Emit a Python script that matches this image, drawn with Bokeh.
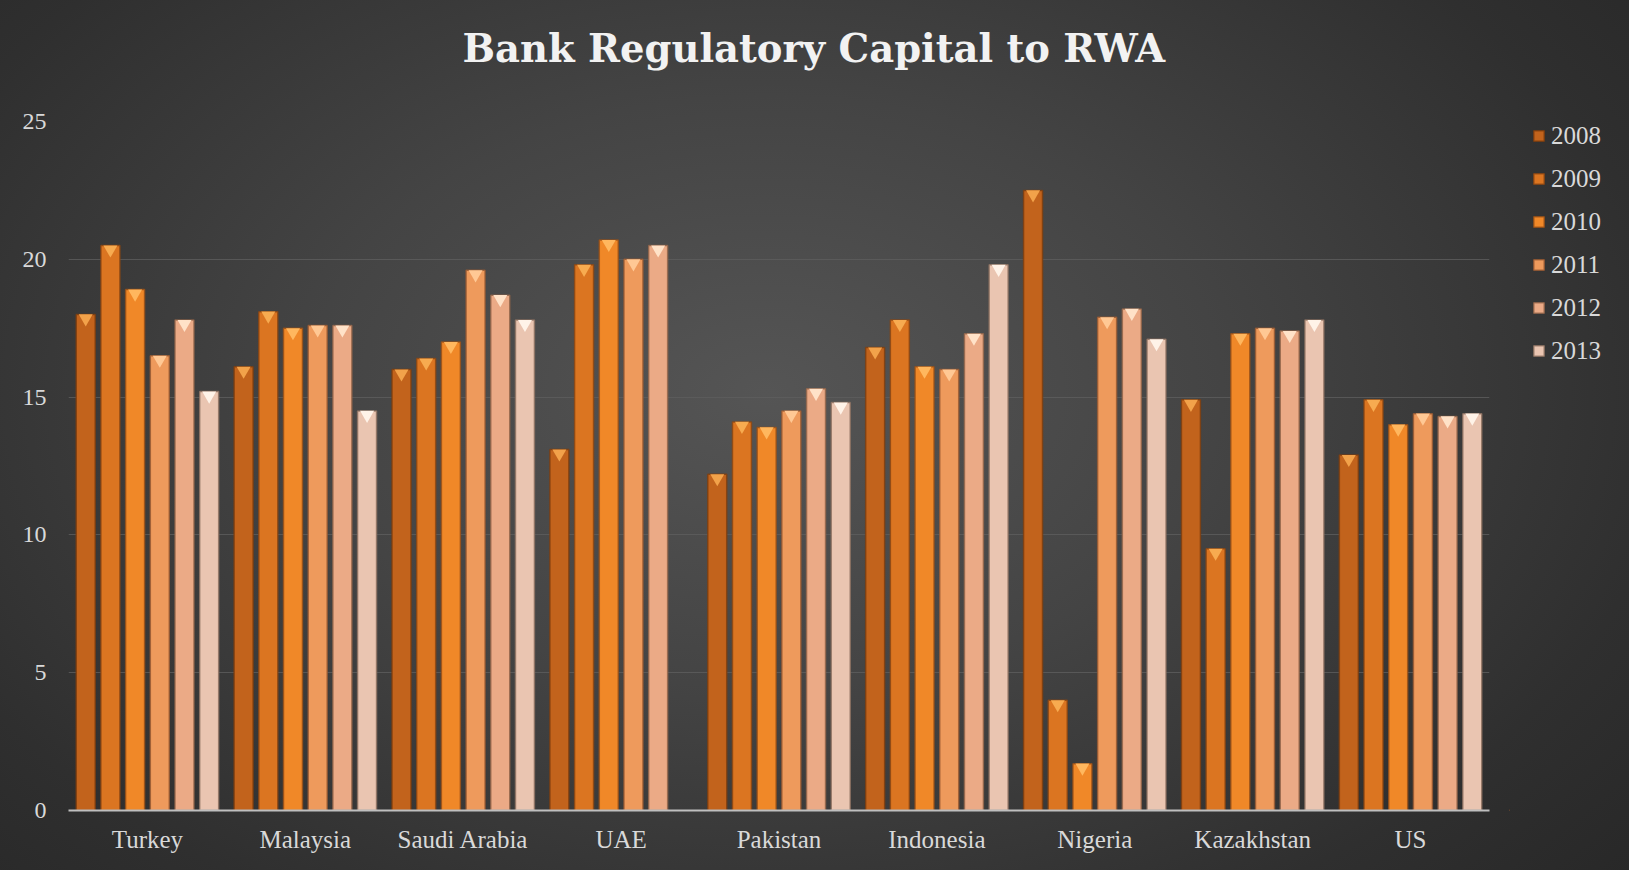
from bokeh.plotting import figure
from bokeh.layouts import row
from bokeh.models import (ColumnDataSource, FactorRange, Range1d, Legend, LegendItem,
                          FixedTicker, Title)
from bokeh.transform import dodge
from bokeh.embed import file_html
from bokeh.resources import INLINE

nan = float("nan")

countries = ["Turkey", "Malaysia", "Saudi Arabia", "UAE", "Pakistan",
             "Indonesia", "Nigeria", "Kazakhstan", "US"]
years = ["2008", "2009", "2010", "2011", "2012", "2013"]

v2008 = [18.0, 16.1, 16.0, 13.1, 12.2, 16.8, 22.5, 14.9, 12.9]
v2009 = [20.5, 18.1, 16.4, 19.8, 14.1, 17.8, 4.0, 9.5, 14.9]
v2010 = [18.9, 17.5, 17.0, 20.7, 13.9, 16.1, 1.7, 17.3, 14.0]
v2011 = [16.5, 17.6, 19.6, 20.0, 14.5, 16.0, 17.9, 17.5, 14.4]
v2012 = [17.8, 17.6, 18.7, 20.5, 15.3, 17.3, 18.2, 17.4, 14.3]
v2013 = [15.2, 14.5, 17.8, nan, 14.8, 19.8, 17.1, 17.8, 14.4]
series = [v2008, v2009, v2010, v2011, v2012, v2013]

y_ticks = [0, 5, 10, 15, 20, 25]

bar_colors = ["#C2631C", "#DB7521", "#F08828", "#EE9A5C", "#EBAA86", "#EAC5B1"]
edge_colors = ["#7E3D0E", "#8C4612", "#9A5016", "#9A5A32", "#94654A", "#8E7262"]
cap_colors = ["#F2A24A", "#F7AB50", "#FFB75E", "#FFC894", "#FFE2C8", "#FFF3E8"]

FONT = "Liberation Serif"
TXT = "#D9D9D9"

p = figure(width=1509, height=870, output_backend="svg", toolbar_location=None,
           x_range=FactorRange(factors=countries, range_padding=0),
           y_range=Range1d(0, 25),
           min_border_left=68, min_border_right=20, min_border_top=121,
           min_border_bottom=60,
           title="Bank Regulatory Capital to RWA")
p.border_fill_color = None
p.background_fill_color = None
p.outline_line_color = None

p.title.align = "left"
p.title.offset = 394
p.title.vertical_align = "bottom"
p.title.standoff = 10
p.title.text_font = "DejaVu Serif"
p.title.text_font_style = "bold"
p.title.text_font_size = "38.5px"
p.title.text_color = "#F2F2F2"

# empty spacer between the frame and the title
spacer = Title(text=" ", text_font_size="1px", standoff=43)
p.add_layout(spacer, "above")

step = 0.1564
bw = 0.12
for i, (yr, vals) in enumerate(zip(years, series)):
    off = (i - 2.5) * step
    src = ColumnDataSource(dict(country=countries, value=vals))
    p.vbar(x=dodge("country", off, range=p.x_range), top="value", width=bw,
           source=src, fill_color=bar_colors[i], line_color=edge_colors[i],
           line_width=1.5, line_alpha=0.8)
    p.scatter(x=dodge("country", off, range=p.x_range), y=dodge("value", -0.145),
              source=src, marker="inverted_triangle", size=14,
              fill_color=cap_colors[i], line_color=None)

# axes
p.yaxis.ticker = FixedTicker(ticks=y_ticks)
p.yaxis.axis_line_color = None
p.yaxis.major_tick_line_color = None
p.yaxis.minor_tick_line_color = None
p.yaxis.major_label_text_font = FONT
p.yaxis.major_label_text_font_size = "24px"
p.yaxis.major_label_text_color = TXT
p.yaxis.major_label_standoff = 16

p.xaxis.axis_line_color = "#BFBFBF"
p.xaxis.axis_line_width = 2
p.xaxis.major_tick_line_color = None
p.xaxis.minor_tick_line_color = None
p.xaxis.major_label_text_font = FONT
p.xaxis.major_label_text_font_size = "25px"
p.xaxis.major_label_text_color = TXT
p.xaxis.major_label_standoff = 9

p.xgrid.grid_line_color = None
p.ygrid.grid_line_color = "#5E5E5E"
p.ygrid.grid_line_alpha = 0.8
p.ygrid.grid_line_width = 1

# legend panel (separate narrow figure to the right)
lg = figure(width=120, height=870, output_backend="svg", toolbar_location=None,
            x_range=Range1d(0, 1), y_range=Range1d(0, 1),
            x_axis_location=None, y_axis_location=None, min_border=0)
lg.border_fill_color = None
lg.background_fill_color = None
lg.outline_line_color = None
lg.grid.visible = False
items = []
for i, yr in enumerate(years):
    r = lg.vbar(x=[-10], top=[0], width=0.1, fill_color=bar_colors[i],
                line_color=edge_colors[i], line_width=1.5, line_alpha=0.8)
    items.append(LegendItem(label=yr, renderers=[r]))
legend = Legend(items=items, location=(23, 445), orientation="vertical",
                glyph_width=13, glyph_height=13, label_height=29, spacing=14,
                label_standoff=6, padding=0, margin=0,
                label_text_font=FONT, label_text_font_size="25px",
                label_text_color=TXT, background_fill_alpha=0,
                border_line_color=None)
lg.add_layout(legend, "center")

layout = row(p, lg, spacing=0)
layout.styles = {"background": "radial-gradient(ellipse 70% 85% at 47% 45%, #555555 0%, #444444 40%, #2f2f2f 80%, #282828 100%)"}

open("out.html", "w").write(file_html(layout, INLINE))
